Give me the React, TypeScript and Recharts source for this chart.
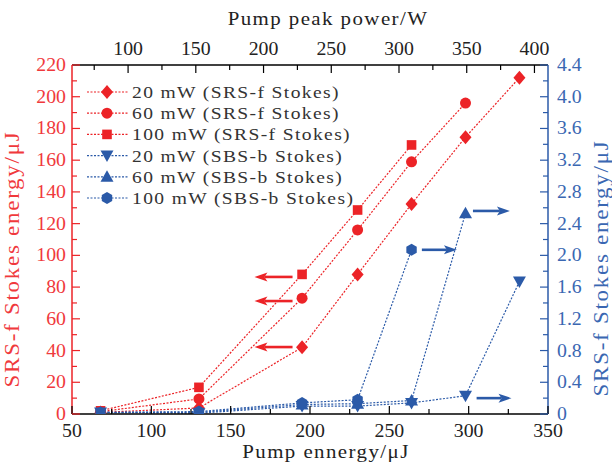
import { LineChart, Line, XAxis, YAxis, ReferenceLine, Customized } from "recharts";

// pump energy (μJ) at which each measurement was taken
const energy = [68, 130, 195, 230, 264, 298, 332];

// SRS-f Stokes energy (μJ), left axis
const srs20 = [1, 3.8, 42, 88, 132.4, 174.5, 212];
const srs60 = [1.5, 9.5, 73, 116, 159, 196];
const srs100 = [2, 16.8, 88, 128.6, 169.6];

// SBS-b Stokes energy (μJ), right axis
const sbs20 = [0.02, 0.01, 0.1, 0.1, 0.14, 0.23, 1.67];
const sbs60 = [0.02, 0.02, 0.12, 0.13, 0.17, 2.53];
const sbs100 = [0.02, 0.03, 0.14, 0.18, 2.07];

const bottomTicks = [50, 75, 100, 125, 150, 175, 200, 225, 250, 275, 300, 325, 350];
const topTicks = [75, 100, 125, 150, 175, 200, 225, 250, 275, 300, 325, 350, 375, 400];
const leftTicks = [0, 10, 20, 30, 40, 50, 60, 70, 80, 90, 100, 110, 120, 130, 140, 150, 160, 170, 180, 190, 200, 210, 220];
const rightTicks = [0, 0.2, 0.4, 0.6, 0.8, 1, 1.2, 1.4, 1.6, 1.8, 2, 2.2, 2.4, 2.6, 2.8, 3, 3.2, 3.4, 3.6, 3.8, 4, 4.2, 4.4];

// annotation arrows: [tail x, head x, y]
const redArrows = [
  [189, 165, 86.4],
  [189, 165, 71.2],
  [189, 165, 42.2],
];
const blueArrows = [
  [270.5, 292.6, 2.07],
  [302.7, 326, 2.56],
  [305, 327, 0.2],
];

const RED = "#ec2327";
const RED_TXT = "#f0393c";
const BLUE = "#2b5aa8";
const BLUE_TXT = "#3a67b2";
const INK = "#222";
const FONT = "'Liberation Serif', 'Times New Roman', serif";

type Marker = "diamond" | "circle" | "square" | "down" | "up" | "hex";

const series: { name: string; values: number[]; axis: string; color: string; marker: Marker }[] = [
  { name: "20 mW (SRS-f Stokes)", values: srs20, axis: "l", color: RED, marker: "diamond" },
  { name: "60 mW (SRS-f Stokes)", values: srs60, axis: "l", color: RED, marker: "circle" },
  { name: "100 mW (SRS-f Stokes)", values: srs100, axis: "l", color: RED, marker: "square" },
  { name: "20 mW (SBS-b Stokes)", values: sbs20, axis: "r", color: BLUE, marker: "down" },
  { name: "60 mW (SBS-b Stokes)", values: sbs60, axis: "r", color: BLUE, marker: "up" },
  { name: "100 mW (SBS-b Stokes)", values: sbs100, axis: "r", color: BLUE, marker: "hex" },
];

function markerShape(kind: Marker, cx: number, cy: number, color: string, key?: string | number) {
  switch (kind) {
    case "diamond":
      return <path key={key} d={`M${cx},${cy - 7}L${cx + 6},${cy}L${cx},${cy + 7}L${cx - 6},${cy}Z`} fill={color} />;
    case "circle":
      return <circle key={key} cx={cx} cy={cy} r={5.5} fill={color} />;
    case "square":
      return <rect key={key} x={cx - 4.8} y={cy - 4.8} width={9.6} height={9.6} fill={color} />;
    case "down":
      return <path key={key} d={`M${cx - 6.5},${cy - 5}L${cx + 6.5},${cy - 5}L${cx},${cy + 6.5}Z`} fill={color} />;
    case "up":
      return <path key={key} d={`M${cx - 6.5},${cy + 5}L${cx + 6.5},${cy + 5}L${cx},${cy - 6.5}Z`} fill={color} />;
    default: {
      const pts = [0, 1, 2, 3, 4, 5]
        .map((i) => {
          const a = Math.PI / 6 + (i * Math.PI) / 3;
          return `${cx + 6 * Math.cos(a)},${cy + 6 * Math.sin(a)}`;
        })
        .join(" ");
      return <polygon key={key} points={pts} fill={color} />;
    }
  }
}

const txt = (
  x: number,
  y: number,
  s: string,
  color: string,
  size: number,
  anchor: string,
  sx: number,
  rot = 0,
  ls = 0
) => (
  <text
    transform={`translate(${x} ${y}) rotate(${rot}) scale(${sx} 1)`}
    textAnchor={anchor}
    fontFamily={FONT}
    fontSize={size}
    letterSpacing={ls}
    fill={color}
  >
    {s}
  </text>
);

const BottomTick = (p: any) => {
  const { x, y, payload } = p;
  const major = payload.value % 50 === 0;
  return (
    <g>
      <line x1={x} y1={y} x2={x} y2={y - (major ? 8 : 5)} stroke="#000" strokeWidth={1.2} />
      {major && txt(x, y + 23, String(payload.value), INK, 18, "middle", 1.1)}
    </g>
  );
};

const TopTick = (p: any) => {
  const { x, y, payload } = p;
  const major = payload.value % 50 === 0;
  return (
    <g>
      <line x1={x} y1={y} x2={x} y2={y + (major ? 8 : 5)} stroke="#000" strokeWidth={1.2} />
      {major && txt(x, y - 10, String(payload.value), INK, 18, "middle", 1.1)}
    </g>
  );
};

const LeftTick = (p: any) => {
  const { x, y, payload } = p;
  const major = payload.value % 20 === 0;
  return (
    <g>
      <line x1={x} y1={y} x2={x + (major ? 8 : 5)} y2={y} stroke={RED} strokeWidth={1.2} />
      {major && txt(x - 6, y + 6, String(payload.value), RED_TXT, 18, "end", 1.1)}
    </g>
  );
};

const RightTick = (p: any) => {
  const { x, y, payload } = p;
  const v = payload.value as number;
  const major = Math.round(v * 10) % 4 === 0;
  return (
    <g>
      <line x1={x} y1={y} x2={x - (major ? 8 : 5)} y2={y} stroke={BLUE} strokeWidth={1.2} />
      {major && txt(x + 9, y + 6, v === 0 ? "0" : v.toFixed(1), BLUE_TXT, 18, "start", 1.1)}
    </g>
  );
};

const arrowShape = (color: string) => (p: any) => {
  const { x1, y1, x2, y2 } = p;
  const dx = x2 - x1;
  const dy = y2 - y1;
  const len = Math.hypot(dx, dy) || 1;
  const ux = dx / len;
  const uy = dy / len;
  const head = 13;
  const hw = 4.5;
  const bx = x2 - ux * head;
  const by = y2 - uy * head;
  const nx = x2 - ux * (head - 3);
  const ny = y2 - uy * (head - 3);
  return (
    <g>
      <line x1={x1} y1={y1} x2={nx} y2={ny} stroke={color} strokeWidth={2.6} />
      <polygon
        points={`${x2},${y2} ${bx - uy * hw},${by + ux * hw} ${nx},${ny} ${bx + uy * hw},${by - ux * hw}`}
        fill={color}
      />
    </g>
  );
};

const LegendBox = () => (
  <g>
    {series.map((s, i) => {
      const cy = 92 + i * 21.2;
      return (
        <g key={s.name}>
          <line x1={87} y1={cy} x2={128} y2={cy} stroke={s.color} strokeWidth={1.2} strokeDasharray="2 1.5" />
          {markerShape(s.marker, 107, cy, s.color)}
          {txt(132, cy + 6, s.name, "#333", 17, "start", 1.15, 0, 1.2)}
        </g>
      );
    })}
  </g>
);

const Titles = () => (
  <g>
    {txt(328, 25, "Pump peak power/W", INK, 19, "middle", 1.1, 0, 1.3)}
    {txt(326, 458, "Pump ennergy/μJ", INK, 19, "middle", 1.1, 0, 1.3)}
    {txt(19, 259, "SRS-f Stokes energy/μJ", RED_TXT, 20, "middle", 1.15, -90, 1.5)}
    {txt(608, 268, "SRS-f Stokes energy/μJ", BLUE_TXT, 20, "middle", 1.15, -90, 1.5)}
  </g>
);

export default function App() {
  return (
    <div style={{ position: "absolute", left: 0, top: 0, background: "#fff" }}>
      <LineChart width={612} height={467} margin={{ top: 0, right: 0, bottom: 0, left: 0 }}>
        <XAxis
          xAxisId="b"
          type="number"
          dataKey="x"
          orientation="bottom"
          domain={[50, 350]}
          ticks={bottomTicks}
          interval={0}
          height={53}
          tickSize={0}
          tickMargin={0}
          tickLine={false}
          axisLine={{ stroke: "#000", strokeWidth: 1.3 }}
          tick={<BottomTick />}
          allowDataOverflow
        />
        <XAxis
          xAxisId="t"
          type="number"
          dataKey="p"
          orientation="top"
          domain={[58.6, 410]}
          ticks={topTicks}
          interval={0}
          height={65}
          tickSize={0}
          tickMargin={0}
          tickLine={false}
          axisLine={{ stroke: "#000", strokeWidth: 1.3 }}
          tick={<TopTick />}
          allowDataOverflow
        />
        <YAxis
          yAxisId="l"
          type="number"
          orientation="left"
          domain={[0, 220]}
          ticks={leftTicks}
          interval={0}
          width={72}
          tickSize={0}
          tickMargin={0}
          tickLine={false}
          axisLine={{ stroke: RED, strokeWidth: 1.5 }}
          tick={<LeftTick />}
          allowDataOverflow
        />
        <YAxis
          yAxisId="r"
          type="number"
          orientation="right"
          domain={[0, 4.4]}
          ticks={rightTicks}
          interval={0}
          width={64}
          tickSize={0}
          tickMargin={0}
          tickLine={false}
          axisLine={{ stroke: BLUE, strokeWidth: 1.5 }}
          tick={<RightTick />}
          allowDataOverflow
        />
        {/* empty series that only carries the top (peak power) axis scale */}
        <Line
          data={topTicks.map((p) => ({ p }))}
          dataKey="none"
          xAxisId="t"
          yAxisId="l"
          stroke="none"
          dot={false}
          activeDot={false}
          legendType="none"
          isAnimationActive={false}
        />
        {series.map((s) => (
          <Line
            key={s.name}
            data={s.values.map((v, i) => ({ x: energy[i], y: v }))}
            dataKey="y"
            xAxisId="b"
            yAxisId={s.axis}
            type="linear"
            stroke={s.color}
            strokeWidth={1.2}
            strokeDasharray="2 1.5"
            dot={(p: any) => markerShape(s.marker, p.cx, p.cy, s.color, `${s.name}-${p.index}`)}
            activeDot={false}
            isAnimationActive={false}
          />
        ))}
        {redArrows.map(([a, b, y], i) => (
          <ReferenceLine
            key={`ra${i}`}
            xAxisId="b"
            yAxisId="l"
            segment={[{ x: a, y }, { x: b, y }]}
            shape={arrowShape(RED)}
          />
        ))}
        {blueArrows.map(([a, b, y], i) => (
          <ReferenceLine
            key={`ba${i}`}
            xAxisId="b"
            yAxisId="r"
            segment={[{ x: a, y }, { x: b, y }]}
            shape={arrowShape(BLUE)}
          />
        ))}
        <Customized component={<LegendBox />} />
        <Customized component={<Titles />} />
      </LineChart>
    </div>
  );
}
